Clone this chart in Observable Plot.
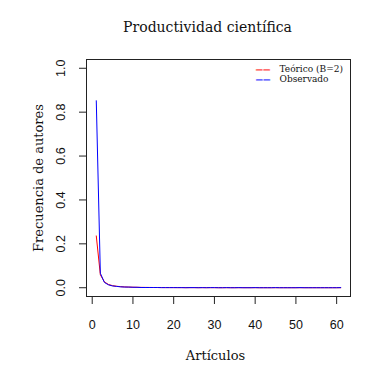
<!DOCTYPE html>
<html>
<head>
<meta charset="utf-8">
<script src="https://cdn.jsdelivr.net/npm/d3@7"></script>
<script src="https://cdn.jsdelivr.net/npm/@observablehq/plot@0.6"></script>
<style>
  body { margin: 0; background: #fff; }
  #chart svg { display: block; }
</style>
</head>
<body>
<div id="chart"></div>
<script>
const articulos = [1,2,3,4,5,6,7,8,9,10,11,12,13,14,15,16,17,18,19,20,21,22,23,24,25,26,27,28,29,30,31,32,33,34,35,36,37,38,39,40,41,42,43,44,45,46,47,48,49,50,51,52,53,54,55,56,57,58,59,60,61];
const teorico = [0.236,0.059,0.0262,0.0148,0.0094,0.0066,0.0048,0.0037,0.0029,0.0024,0.0020,0.0016,0.0014,0.0012,0.0010,0.0009,0.0008,0.0007,0.0007,0.0006,0.0005,0.0005,0.0004,0.0004,0.0004,0.0003,0.0003,0.0003,0.0003,0.0003,0.0002,0.0002,0.0002,0.0002,0.0002,0.0002,0.0002,0.0002,0.0002,0.0002,0.0001,0.0001,0.0001,0.0001,0.0001,0.0001,0.0001,0.0001,0.0001,0.0001,0.0001,0.0001,0.0001,0.0001,0.0001,0.0001,0.0001,0.0001,0.0001,0.0001,0.0001];
const observado = [0.852,0.066,0.024,0.013,0.008,0.006,0.004,0.003,0.003,0.002,0.002,0.001,0.001,0.001,0.001,0.001,0.0005,0.0005,0.0005,0.0005,0.0005,0.0005,0,0.0005,0.0005,0,0.0005,0,0.0005,0.0005,0,0,0.0005,0,0,0.0005,0,0,0,0.0005,0,0,0,0,0.0005,0,0,0,0,0,0.0005,0,0,0,0,0,0,0,0,0,0.0005];
const xTicks = [0,10,20,30,40,50,60];
const yTicks = [0,0.2,0.4,0.6,0.8,1.0];
const yTickLabels = ["0.0","0.2","0.4","0.6","0.8","1.0"];
const titulo = "Productividad científica";
const xLabel = "Artículos";
const yLabel = "Frecuencia de autores";
const serieNames = ["Teórico (B=2)", "Observado"];
const serieColors = ["#ff0000", "#0000ff"];
const serieValues = [teorico, observado];

const rows = serieNames.flatMap((name, k) => articulos.map((a, i) => ({serie: name, x: a, y: serieValues[k][i]})));

const serif = "'DejaVu Serif', serif";
const sans = "'Liberation Sans', Arial, sans-serif";

const legendMarks = serieNames.flatMap((name, i) => [
  Plot.text([name], {frameAnchor: "top-right", dx: -71, dy: 10 + i * 10, text: d => d, fontFamily: serif, fontSize: 9, fill: "#111", textAnchor: "start", lineAnchor: "middle"}),
  Plot.text(["\u2014\u2014"], {frameAnchor: "top-right", dx: -87.5, dy: 10.5 + i * 10, text: d => d, fontFamily: "'DejaVu Sans', sans-serif", fontSize: 7.5, fontWeight: "bold", fill: serieColors[i], textAnchor: "middle", lineAnchor: "middle"})
]);

const chart = Plot.plot({
  width: 390,
  height: 377,
  marginLeft: 86,
  marginRight: 40,
  marginTop: 59,
  marginBottom: 81,
  style: {background: "#fff", fontFamily: sans, fontSize: "12px", color: "#000"},
  x: {domain: [-1.4, 63.4], label: null},
  y: {domain: [-0.04, 1.04], label: null},
  color: {domain: serieNames, range: serieColors},
  marks: [
    Plot.frame({stroke: "#222", strokeWidth: 1}),
    Plot.axisX({ticks: xTicks, tickSize: 8, tickFormat: () => "", label: null, stroke: "#222"}),
    Plot.axisY({ticks: yTicks, tickSize: 7, tickFormat: () => "", label: null, stroke: "#222"}),
    Plot.text(xTicks, {x: d => d, frameAnchor: "bottom", dy: 28, lineAnchor: "middle", text: d => String(d), fontFamily: sans, fontSize: 12.5, fill: "#111"}),
    Plot.text(yTicks, {y: d => d, frameAnchor: "left", dx: -26, rotate: -90, textAnchor: "middle", lineAnchor: "middle", text: (d, i) => yTickLabels[i], fontFamily: sans, fontSize: 12.5, fill: "#111"}),
    Plot.line(rows, {x: "x", y: "y", z: "serie", stroke: "serie", strokeWidth: 1, curve: "linear"}),
    Plot.text([titulo], {frameAnchor: "top", dy: -32, dx: -11, text: d => d, fontFamily: serif, fontSize: 14, fill: "#111", lineAnchor: "middle"}),
    Plot.text([xLabel], {frameAnchor: "bottom", dy: 59, dx: -3, text: d => d, fontFamily: serif, fontSize: 13, fill: "#111", lineAnchor: "middle"}),
    Plot.text([yLabel], {frameAnchor: "left", dx: -48, rotate: -90, text: d => d, fontFamily: serif, fontSize: 13, fill: "#111", textAnchor: "middle", lineAnchor: "middle"}),
    ...legendMarks
  ]
});

document.getElementById("chart").appendChild(chart);
</script>
</body>
</html>
